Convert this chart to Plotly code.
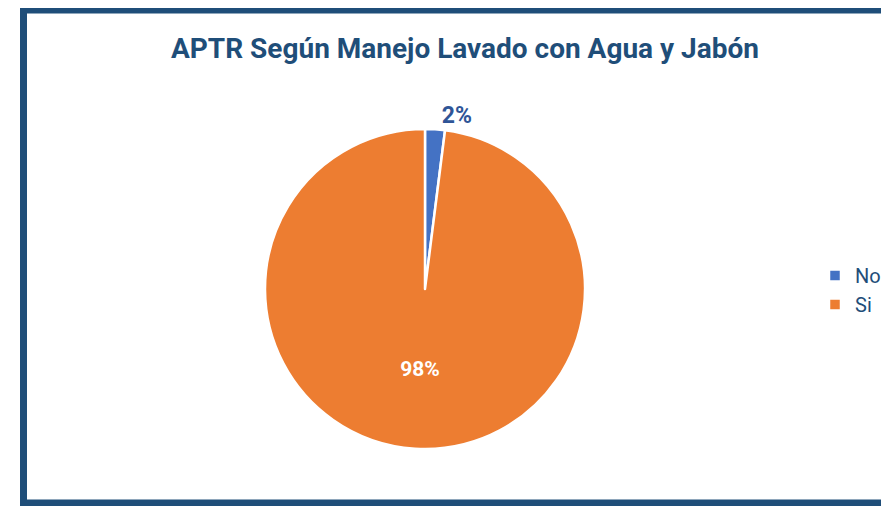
import plotly.graph_objects as go

categories = ["No", "Si"]
values = [2, 98]
colors = ["#4472C4", "#ED7D31"]
title_text = "APTR Según Manejo Lavado con Agua y Jabón"

W, H = 889, 506
FONT = "Roboto, Arial, sans-serif"
DARK = "#1F4E79"

# the page adds an 8px body margin, so positions are set 8px up-left
cx, cy, r = 417, 281, 160

fig = go.Figure(go.Pie(
    labels=categories,
    values=values,
    sort=False,
    direction="clockwise",
    rotation=0,
    marker=dict(colors=colors, line=dict(color="white", width=2.5)),
    texttemplate="<b>%{percent:.0%}</b>",
    textposition=["outside", "inside"],
    outsidetextfont=dict(color="#2F5597", size=23, family=FONT),
    insidetextfont=dict(color="white", size=21, family=FONT),
    insidetextorientation="horizontal",
    hoverinfo="label+percent",
    domain=dict(x=[(cx - r) / W, (cx + r) / W],
                y=[(H - cy - r) / H, (H - cy + r) / H]),
))

fig.update_layout(
    width=W, height=H,
    margin=dict(l=0, r=0, t=0, b=0, autoexpand=False),
    paper_bgcolor="white",
    title=dict(text="<b>" + title_text + "</b>", x=457 / W, xanchor="center",
               y=(H - 40) / H, yanchor="middle",
               font=dict(family=FONT, size=28, color=DARK)),
    legend=dict(x=807 / W, y=(H - 282) / H, xanchor="left", yanchor="middle",
                font=dict(family=FONT, size=20, color=DARK),
                bgcolor="rgba(0,0,0,0)"),
    shapes=[dict(type="rect", xref="paper", yref="paper",
                 x0=15.5 / W, x1=1.2, y0=(H - 495) / H, y1=(H - 2) / H,
                 line=dict(color=DARK, width=7), fillcolor="rgba(0,0,0,0)")],
)

fig.write_html("out.html")
